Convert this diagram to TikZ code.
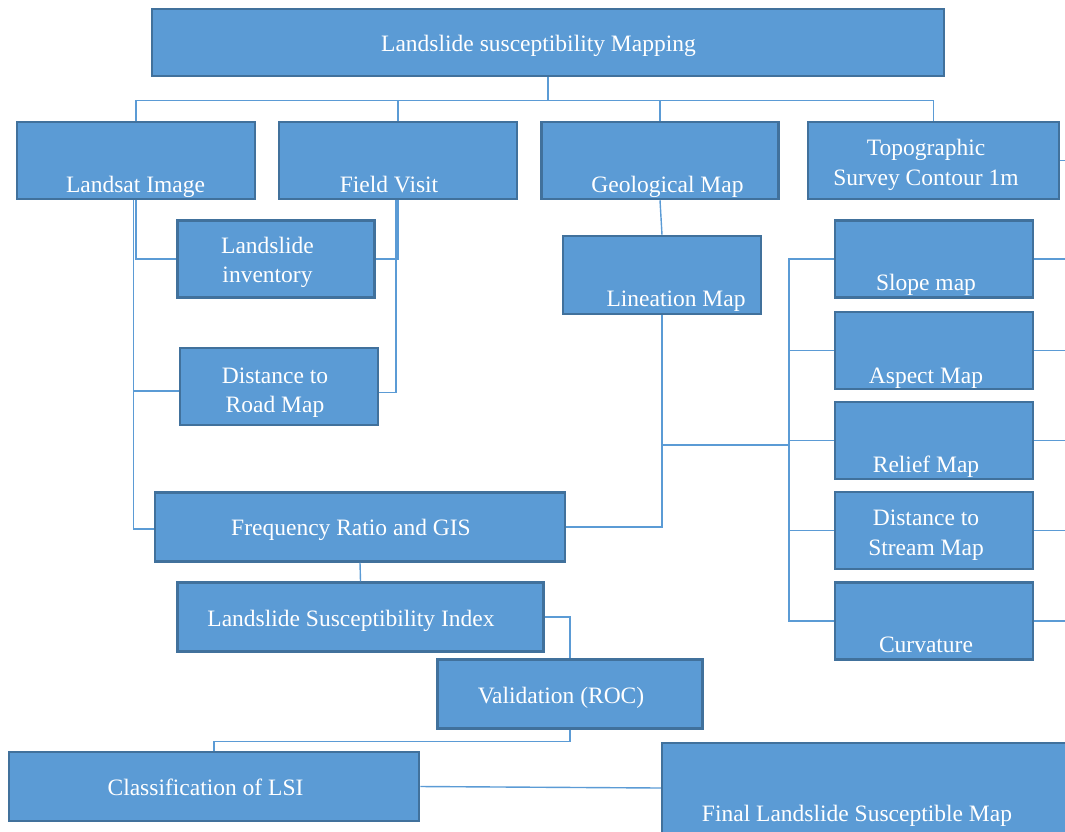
\documentclass[tikz,border=0pt]{standalone}
\usepackage{fontspec}
\setmainfont{Liberation Serif}
\definecolor{boxfill}{HTML}{5B9BD5}
\definecolor{boxline}{HTML}{41719C}
\definecolor{wirecol}{HTML}{5B9BD5}

\begin{document}
\begin{tikzpicture}[x=1pt,y=-1pt,
   box/.style={draw=boxline,fill=boxfill,line width=2.5pt,inner sep=0pt},
   txt/.style={text=white,anchor=base,align=center,inner sep=0pt,
     font=\fontsize{23.5}{29.5}\selectfont},
   wire/.style={draw=wirecol,line width=1.4pt}]

\useasboundingbox (0,0) rectangle (1065,831);
\clip (0,0) rectangle (1065,831);
\coordinate (edge) at (1065,0);

% boxes
\node[box,minimum width=792pt,minimum height=67pt] (map) at (548,42.5) {};
\node[box,minimum width=238pt,minimum height=77pt] (land) at (136,160.5) {};
\node[box,minimum width=238pt,minimum height=77pt] (field) at (398,160.5) {};
\node[box,minimum width=237pt,minimum height=77pt] (geo) at (660,160.5) {};
\node[box,minimum width=251pt,minimum height=77pt] (topo) at (933.5,160.5) {};
\node[box,minimum width=197pt,minimum height=77pt] (inv) at (276,259) {};
\node[box,minimum width=198pt,minimum height=77pt] (road) at (279,386.5) {};
\node[box,minimum width=198pt,minimum height=78pt] (lin) at (662,275) {};
\foreach \b/\y in {slope/259,aspect/350.5,relief/440.5,stream/530.5,curv/621}
  \node[box,minimum width=198pt,minimum height=77pt] (\b) at (934,\y) {};
\node[box,minimum width=410pt,minimum height=69pt] (fr) at (360,527) {};
\node[box,minimum width=366pt,minimum height=69pt] (lsi) at (360.5,617) {};
\node[box,minimum width=265pt,minimum height=69pt] (roc) at (570,694) {};
\node[box,minimum width=410pt,minimum height=69pt] (cls) at (214,786.5) {};
\node[box,minimum width=440pt,minimum height=90pt] (final) at (882,788) {};

% connectors
\draw[wire] (map.south) -- ++(0,23.5) coordinate (bus);
\foreach \b in {land,field,geo,topo}
  \draw[wire] (bus) -| (\b.north);
\draw[wire] (land.south) |- (inv.west);
\draw[wire] ([xshift=-2.5pt]land.south) |- ([yshift=-4.5pt]road.west);
\draw[wire] ([xshift=-2.5pt]land.south) |- ([yshift=-2pt]fr.west);
\draw[wire] (field.south) |- (inv.east);
\draw[wire] ([xshift=-2pt]field.south) |- ([yshift=-6pt]road.east);
\draw[wire] (geo.south) -- (lin.north);
\draw[wire] (lin.south) |- (fr.east);
\coordinate (hub) at (789,445);
\draw[wire] (lin.south) |- (hub);
\foreach \b in {slope,aspect,relief,stream,curv}
  \draw[wire] (hub) |- (\b.west);
\foreach \b in {topo,slope,aspect,relief,stream,curv}
  \draw[wire] (\b.east) -- (\b.east -| edge);
\draw[wire] (fr.south) -- (lsi.north);
\draw[wire] (lsi.east) -| (roc.north);
\draw[wire] (roc.south) -- ++(0,11.5) -| (cls.north);
\draw[wire] (cls.east) -- (final.west);

% labels (two-line labels sit on their last baseline)
\node[txt] (t-map) at (538.5,51) {Landslide susceptibility Mapping};
\node[txt] (t-land) at (135.5,192) {Landsat Image};
\node[txt] (t-field) at (389,192) {Field Visit};
\node[txt] (t-geo) at (667.5,192) {Geological Map};
\node[txt] (t-topo) at (926,185) {Topographic\\Survey Contour 1m};
\node[txt] (t-inv) at (267.5,282.5) {Landslide\\inventory};
\node[txt] (t-road) at (275,412.5) {Distance to\\Road Map};
\node[txt] (t-lin) at (676,306.5) {Lineation Map};
\node[txt] (t-slope) at (926,290.5) {Slope map};
\node[txt] (t-aspect) at (926,383) {Aspect Map};
\node[txt] (t-relief) at (926,472.5) {Relief Map};
\node[txt] (t-stream) at (926,555) {Distance to\\Stream Map};
\node[txt] (t-curv) at (926,652) {Curvature};
\node[txt] (t-fr) at (351,535.5) {Frequency Ratio and GIS};
\node[txt] (t-lsi) at (351,626) {Landslide Susceptibility Index};
\node[txt] (t-roc) at (561,703) {Validation (ROC)};
\node[txt] (t-cls) at (205.5,795.5) {Classification of LSI};
\node[txt] (t-final) at (857,821.5) {Final Landslide Susceptible Map};

\end{tikzpicture}
\end{document}
